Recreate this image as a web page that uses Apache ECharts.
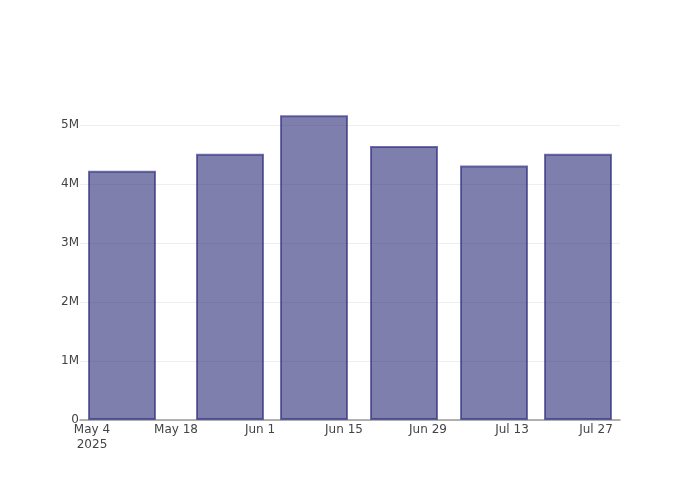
<!DOCTYPE html>
<html>
<head>
<meta charset="utf-8">
<script src="https://cdn.jsdelivr.net/npm/echarts@6/dist/echarts.min.js"></script>
<style>html,body{margin:0;padding:0;background:#fff}#c{width:700px;height:500px}</style>
</head>
<body>
<div id="c"></div>
<script>
const dates = ['2025-05-09', '2025-05-27', '2025-06-10', '2025-06-25', '2025-07-10', '2025-07-24'];
const values = [4220000, 4510000, 5160000, 4640000, 4310000, 4510000];
const xTickDates = ['2025-05-04', '2025-05-18', '2025-06-01', '2025-06-15', '2025-06-29', '2025-07-13', '2025-07-27'];
const xTickLabels = ['May 4\n2025', 'May 18', 'Jun 1', 'Jun 15', 'Jun 29', 'Jul 13', 'Jul 27'];
const yTickLabels = ['0', '1M', '2M', '3M', '4M', '5M'];

const ts = d => Date.parse(d + 'T00:00:00Z');
const tickMap = {};
xTickDates.forEach((d, i) => { tickMap[ts(d)] = xTickLabels[i]; });

const chart = echarts.init(document.getElementById('c'), null, {renderer: 'canvas'});
chart.setOption({
  animation: false,
  backgroundColor: '#fff',
  textStyle: {fontFamily: 'DejaVu Sans'},
  grid: {left: 80, right: 80, top: 100, bottom: 80, containLabel: false},
  xAxis: {
    type: 'value',
    min: ts('2025-05-02'),
    max: ts('2025-07-31'),
    axisLine: {show: true, lineStyle: {color: '#9a9a9a', width: 1.5}},
    axisTick: {show: false},
    splitLine: {show: false},
    axisLabel: {
      customValues: xTickDates.map(ts),
      formatter: v => tickMap[v] || '',
      color: '#444',
      fontSize: 12,
      fontFamily: 'DejaVu Sans',
      lineHeight: 15,
      margin: 2,
      hideOverlap: false
    }
  },
  yAxis: {
    type: 'value',
    min: 0,
    max: 5420000,
    interval: 1000000,
    axisLine: {show: false},
    axisTick: {show: false},
    splitLine: {showMaxLine: false, lineStyle: {color: '#eeeeee', width: 1}},
    axisLabel: {
      formatter: v => { const i = Math.round(v / 1000000); return (v % 1000000 === 0 && i < yTickLabels.length) ? yTickLabels[i] : ''; },
      showMaxLabel: false,
      color: '#444',
      fontSize: 12,
      fontFamily: 'DejaVu Sans',
      margin: 1,
      padding: [2, 0, 0, 0]
    }
  },
  series: [{
    type: 'bar',
    data: dates.map((d, i) => [ts(d), values[i]]),
    barWidth: 68,
    itemStyle: {color: 'rgba(42,42,120,0.6)', borderColor: 'rgba(48,48,130,0.68)', borderWidth: 2}
  }]
});
</script>
</body>
</html>
